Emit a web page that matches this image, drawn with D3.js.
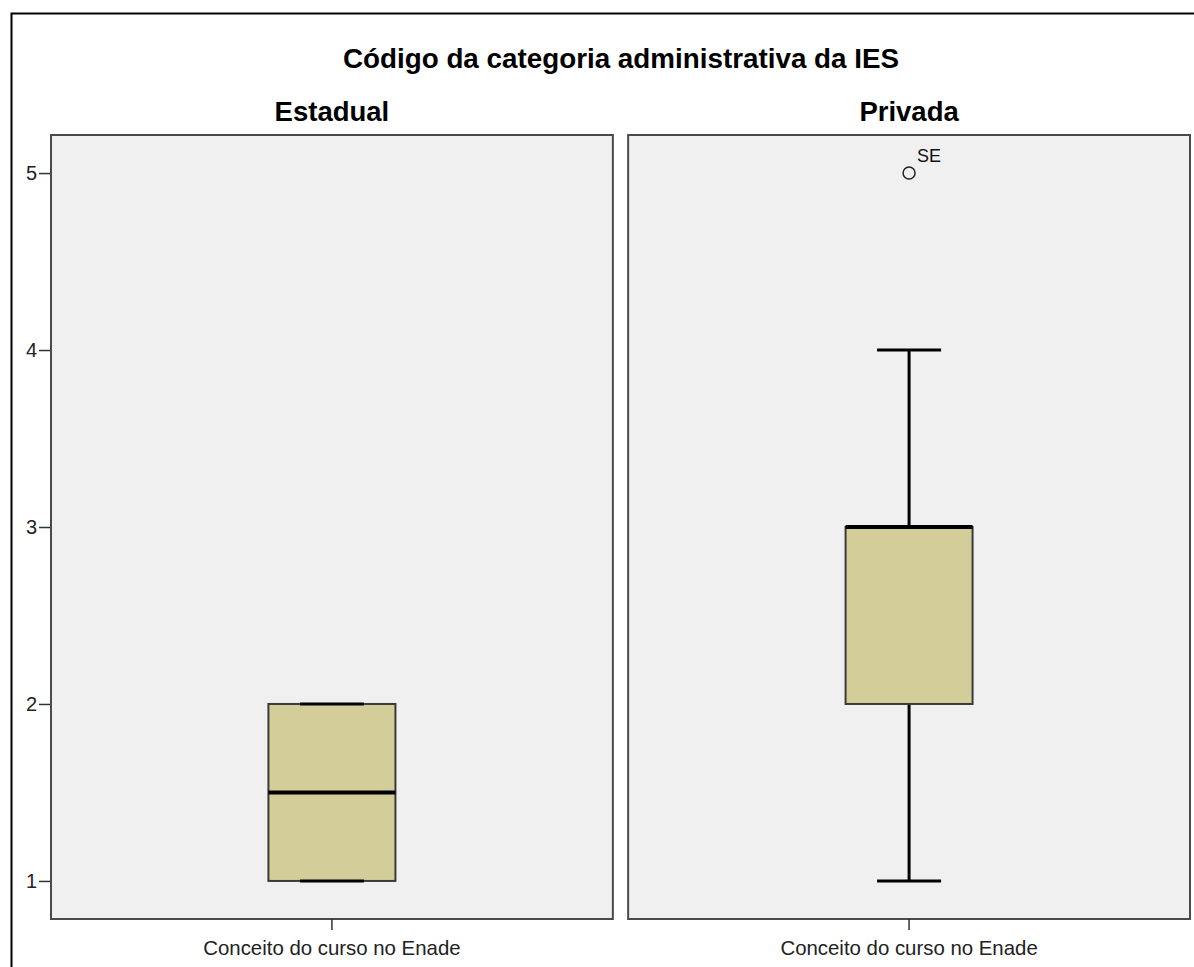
<!DOCTYPE html>
<html>
<head>
<meta charset="utf-8">
<script src="https://cdn.jsdelivr.net/npm/d3@7"></script>
<style>
  body { margin: 0; background: #fff; }
  text { font-family: "Liberation Sans", Arial, sans-serif; }
</style>
</head>
<body>
<div id="chart"></div>
<script>
// Data
const panels = ['Estadual', 'Privada'];
const mins = [1, 1];
const q1s = [1, 2];
const medians = [1.5, 3];
const q3s = [2, 3];
const maxs = [2, 4];
const outliers = [[], [{ value: 5, label: 'SE' }]];
const yTicks = [1, 2, 3, 4, 5];
const title = 'Código da categoria administrativa da IES';
const xLabel = 'Conceito do curso no Enade';

const W = 1194, H = 967;
const svg = d3.select('#chart').append('svg')
    .attr('width', W).attr('height', H);

// outer frame
svg.append('rect')
    .attr('x', 11.5).attr('y', 13.5)
    .attr('width', W + 10).attr('height', H + 10)
    .attr('fill', 'none').attr('stroke', '#000').attr('stroke-width', 2);

svg.append('text')
    .attr('x', 621).attr('y', 68)
    .attr('text-anchor', 'middle')
    .attr('font-size', 27.8).attr('font-weight', 'bold')
    .text(title);

const plotTop = 135, plotBottom = 919;
const y = d3.scaleLinear().domain([0.785, 5.215]).range([plotBottom, plotTop]);

const x = d3.scaleBand().domain(panels).range([51, 1190]).paddingInner(0.0265);

// y axis
svg.append('g')
    .attr('transform', 'translate(51,0)')
    .call(d3.axisLeft(y).tickValues(yTicks).tickSize(12).tickPadding(2).tickFormat(d3.format('d')))
    .call(g => g.select('.domain').remove())
    .call(g => g.selectAll('line').attr('stroke', '#333').attr('stroke-width', 1.5))
    .call(g => g.selectAll('text').attr('font-size', 20).attr('fill', '#222')
        .attr('font-family', '"Liberation Sans", Arial, sans-serif'));

const boxW = 127, capW = 64;

panels.forEach((p, i) => {
    const px = x(p), pw = x.bandwidth();
    const cx = px + pw / 2;
    const g = svg.append('g');

    g.append('text')
        .attr('x', cx).attr('y', 121)
        .attr('text-anchor', 'middle')
        .attr('font-size', 27.5).attr('font-weight', 'bold')
        .text(p);

    g.append('rect')
        .attr('x', px).attr('y', plotTop)
        .attr('width', pw).attr('height', plotBottom - plotTop)
        .attr('fill', '#f0f0f0').attr('stroke', '#4a4a4a').attr('stroke-width', 2);

    // x tick + label
    g.append('line')
        .attr('x1', cx).attr('x2', cx).attr('y1', plotBottom).attr('y2', plotBottom + 11)
        .attr('stroke', '#333').attr('stroke-width', 1.5);
    g.append('text')
        .attr('x', cx).attr('y', 955)
        .attr('text-anchor', 'middle')
        .attr('font-size', 20.4).attr('fill', '#222')
        .text(xLabel);

    // whiskers
    g.append('line')
        .attr('x1', cx).attr('x2', cx).attr('y1', y(maxs[i])).attr('y2', y(q3s[i]))
        .attr('stroke', '#000').attr('stroke-width', 3);
    g.append('line')
        .attr('x1', cx).attr('x2', cx).attr('y1', y(q1s[i])).attr('y2', y(mins[i]))
        .attr('stroke', '#000').attr('stroke-width', 3);

    g.append('rect')
        .attr('x', cx - boxW / 2).attr('y', y(q3s[i]))
        .attr('width', boxW).attr('height', y(q1s[i]) - y(q3s[i]))
        .attr('fill', '#d3ce99').attr('stroke', '#3a3a3a').attr('stroke-width', 2);

    [mins[i], maxs[i]].forEach(v => {
        g.append('line')
            .attr('x1', cx - capW / 2).attr('x2', cx + capW / 2)
            .attr('y1', y(v)).attr('y2', y(v))
            .attr('stroke', '#000').attr('stroke-width', 3);
    });

    g.append('line')
        .attr('x1', cx - boxW / 2).attr('x2', cx + boxW / 2)
        .attr('y1', y(medians[i])).attr('y2', y(medians[i]))
        .attr('stroke', '#000').attr('stroke-width', 4);

    outliers[i].forEach(o => {
        g.append('circle')
            .attr('cx', cx).attr('cy', y(o.value)).attr('r', 6)
            .attr('fill', 'none').attr('stroke', '#222').attr('stroke-width', 1.5);
        g.append('text')
            .attr('x', cx + 8).attr('y', y(o.value) - 11)
            .attr('font-size', 18).attr('fill', '#111')
            .text(o.label);
    });
});
</script>
</body>
</html>
